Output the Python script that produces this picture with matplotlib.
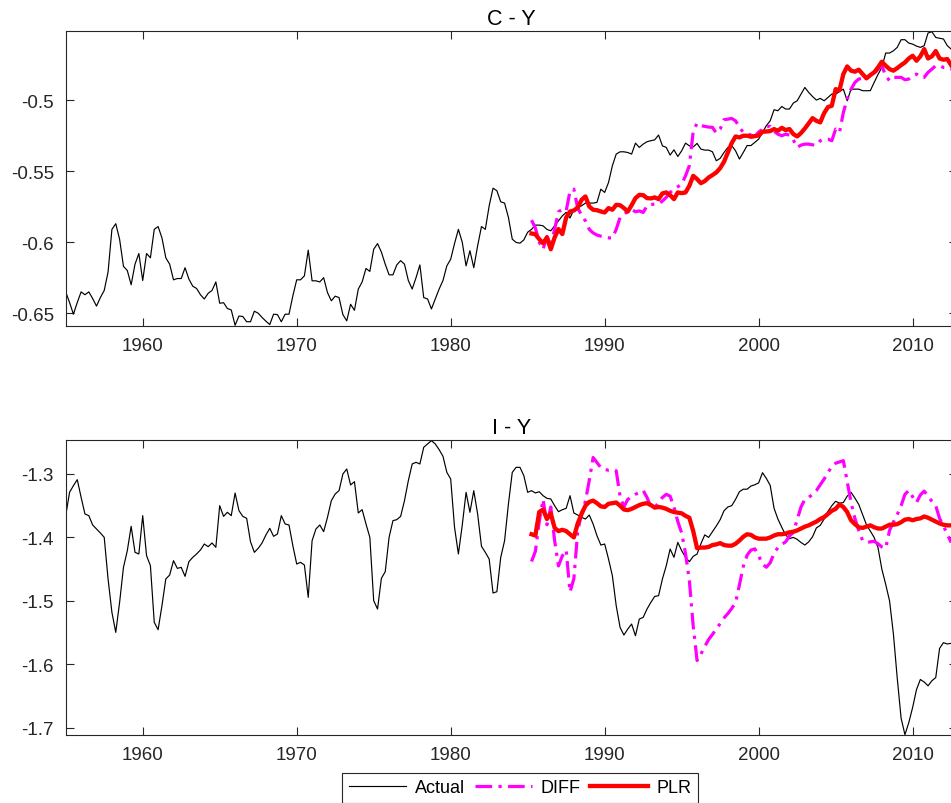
import numpy as np
import matplotlib
matplotlib.use('Agg')
import matplotlib.pyplot as plt

plt.rcParams['font.family'] = ['Liberation Sans', 'DejaVu Sans']

# quarterly dates, 1955Q1 .. 2012Q3
dates = np.arange(1955.0, 2012.51, 0.25)
# the two forecasts start in 1985Q2
fc_dates = np.arange(1985.25, 2012.51, 0.25)

# consumption / output ratio (log)
cy_actual = [
    -0.635, -0.6425, -0.6507, -0.6425,
    -0.635, -0.637, -0.635, -0.6397,
    -0.645, -0.639, -0.634, -0.621,
    -0.591, -0.587, -0.598, -0.617,
    -0.620, -0.630, -0.6155, -0.608,
    -0.627, -0.608, -0.611, -0.591,
    -0.589, -0.597, -0.611, -0.6155,
    -0.6265, -0.6256, -0.6256, -0.618,
    -0.626, -0.631, -0.6326, -0.637,
    -0.640, -0.636, -0.634, -0.628,
    -0.643, -0.6426, -0.6467, -0.6477,
    -0.6585, -0.652, -0.6523, -0.656,
    -0.656, -0.6486, -0.650, -0.653,
    -0.6556, -0.658, -0.6507, -0.651,
    -0.656, -0.6507, -0.6507, -0.6378,
    -0.6265, -0.6265, -0.6237, -0.6056,
    -0.6272, -0.6272, -0.628, -0.625,
    -0.6355, -0.6413, -0.638, -0.639,
    -0.651, -0.6554, -0.6437, -0.648,
    -0.633, -0.628, -0.6185, -0.6206,
    -0.605, -0.601, -0.607, -0.6155,
    -0.623, -0.623, -0.616, -0.613,
    -0.6155, -0.627, -0.633, -0.625,
    -0.616, -0.639, -0.640, -0.647,
    -0.640, -0.633, -0.627, -0.6167,
    -0.612, -0.601, -0.591, -0.600,
    -0.6167, -0.606, -0.618, -0.6026,
    -0.589, -0.591, -0.5744, -0.562,
    -0.5638, -0.5716, -0.5725, -0.5826,
    -0.5979, -0.6002, -0.6007, -0.5984,
    -0.593, -0.591, -0.588, -0.588,
    -0.5885, -0.591, -0.592, -0.5885,
    -0.585, -0.5815, -0.579, -0.583,
    -0.577, -0.5756, -0.5744, -0.5725,
    -0.5725, -0.5725, -0.572, -0.5627,
    -0.565, -0.558, -0.5462, -0.538,
    -0.5364, -0.5364, -0.5369, -0.538,
    -0.5303, -0.5333, -0.531, -0.5293,
    -0.5286, -0.528, -0.5246, -0.5322,
    -0.5333, -0.5387, -0.535, -0.5397,
    -0.5357, -0.5303, -0.5322, -0.533,
    -0.5305, -0.5345, -0.5352, -0.5352,
    -0.5364, -0.5427, -0.541, -0.5369,
    -0.5333, -0.532, -0.5357, -0.5415,
    -0.5369, -0.532, -0.532, -0.5298,
    -0.5275, -0.5228, -0.518, -0.5146,
    -0.5068, -0.5075, -0.5045, -0.5063,
    -0.5063, -0.5021, -0.5005, -0.4958,
    -0.4911, -0.4946, -0.4975, -0.5,
    -0.4988, -0.5005, -0.4981, -0.4958,
    -0.4958, -0.494, -0.4923, -0.5005,
    -0.4923, -0.4923, -0.4923, -0.4934,
    -0.4934, -0.4934, -0.4876, -0.482,
    -0.477, -0.4669, -0.4669, -0.4653,
    -0.4629, -0.4575, -0.4575, -0.4599,
    -0.4606, -0.462, -0.4629, -0.4617,
    -0.4528, -0.4519, -0.4559, -0.4565,
    -0.457, -0.4617, -0.4641,
]

cy_diff = [
    -0.5845, -0.590, -0.600,
    -0.605, -0.596, -0.602, -0.591,
    -0.5786, -0.577, -0.578, -0.564,
    -0.5627, -0.576, -0.581, -0.585,
    -0.591, -0.5935, -0.595, -0.5958,
    -0.5967, -0.597, -0.597, -0.591,
    -0.5826, -0.5803, -0.5785, -0.577,
    -0.5786, -0.578, -0.5791, -0.5744,
    -0.5735, -0.5732, -0.5732, -0.571,
    -0.5685, -0.565, -0.5627, -0.561,
    -0.5592, -0.5533, -0.5462, -0.522,
    -0.5162, -0.518, -0.5185, -0.519,
    -0.5192, -0.5232, -0.5204, -0.5138,
    -0.5134, -0.5129, -0.5146, -0.519,
    -0.5228, -0.5238, -0.5246, -0.5256,
    -0.5225, -0.5205, -0.5185, -0.5185,
    -0.522, -0.524, -0.5251, -0.524,
    -0.5246, -0.528, -0.5333, -0.5317,
    -0.531, -0.531, -0.5315, -0.5317,
    -0.5286, -0.5275, -0.5275, -0.5286,
    -0.5204, -0.5228, -0.5087, -0.4993,
    -0.4923, -0.4876, -0.4852, -0.4846,
    -0.484, -0.483, -0.4817, -0.4782,
    -0.4758, -0.4829, -0.4864, -0.484,
    -0.484, -0.484, -0.4857, -0.4852,
    -0.4829, -0.4817, -0.484, -0.484,
    -0.4805, -0.4782, -0.4758, -0.4758,
    -0.477, -0.477, -0.4782,
]

cy_plr = [
    -0.5939, -0.5944, -0.5979,
    -0.6007, -0.5967, -0.605, -0.5967,
    -0.5908, -0.5943, -0.5826, -0.5784,
    -0.5777, -0.5756, -0.5702, -0.5678,
    -0.5749, -0.5772, -0.5775, -0.5784,
    -0.5791, -0.576, -0.5772, -0.5737,
    -0.574, -0.576, -0.5784, -0.574,
    -0.569, -0.5667, -0.5669, -0.569,
    -0.5692, -0.5685, -0.5697, -0.5657,
    -0.565, -0.5669, -0.5697, -0.565,
    -0.5655, -0.565, -0.5603, -0.5533,
    -0.5556, -0.5585, -0.557, -0.5545,
    -0.5528, -0.5509, -0.5479, -0.5434,
    -0.5369, -0.5303, -0.5256, -0.5263,
    -0.5251, -0.5251, -0.5258, -0.5254,
    -0.5249, -0.5223, -0.5221, -0.5218,
    -0.5204, -0.5216, -0.5195, -0.5211,
    -0.5204, -0.5239, -0.5256, -0.5232,
    -0.52, -0.5164, -0.5127, -0.5146,
    -0.5157, -0.5092, -0.5049, -0.504,
    -0.4923, -0.493, -0.4817, -0.4763,
    -0.4793, -0.48, -0.4786, -0.4817,
    -0.4847, -0.4824, -0.4805, -0.477,
    -0.473, -0.4758, -0.4782, -0.4793,
    -0.4775, -0.4754, -0.4735, -0.4707,
    -0.4688, -0.4723, -0.4692, -0.4641,
    -0.4707, -0.4692, -0.4655, -0.4707,
    -0.4716, -0.4711, -0.4754,
]

# investment / output ratio (log)
iy_actual = [
    -1.3657, -1.3289, -1.3184, -1.3089,
    -1.3368, -1.3631, -1.3657, -1.3804,
    -1.3867, -1.393, -1.3998, -1.4655,
    -1.5181, -1.5497, -1.5024, -1.4472,
    -1.4209, -1.3825, -1.4235, -1.4261,
    -1.3657, -1.4288, -1.4445, -1.5339,
    -1.5455, -1.5076, -1.4655, -1.4593,
    -1.4367, -1.4488, -1.4472, -1.4614,
    -1.4382, -1.4314, -1.4261, -1.4198,
    -1.4104, -1.4146, -1.4088, -1.4156,
    -1.3499, -1.3668, -1.3604, -1.3657,
    -1.33, -1.3578, -1.3668, -1.3699,
    -1.4067, -1.4235, -1.4172, -1.4088,
    -1.3962, -1.3857, -1.3983, -1.3946,
    -1.3657, -1.3788, -1.3804, -1.413,
    -1.4419, -1.4393, -1.4435, -1.4945,
    -1.4051, -1.3867, -1.3804, -1.3909,
    -1.3683, -1.342, -1.3315, -1.3263,
    -1.3, -1.2921, -1.3173, -1.3121,
    -1.3615, -1.3562, -1.3788, -1.3999,
    -1.4997, -1.5129, -1.4645, -1.454,
    -1.3999, -1.3736, -1.372, -1.3668,
    -1.342, -1.3105, -1.2842, -1.2816,
    -1.2842, -1.2579, -1.2527, -1.2474,
    -1.2527, -1.2616, -1.2721, -1.2974,
    -1.3079, -1.384, -1.4261, -1.381,
    -1.3289, -1.3604, -1.3263, -1.3631,
    -1.414, -1.4236, -1.4341, -1.4877,
    -1.4856, -1.4315, -1.4052, -1.3473,
    -1.2974, -1.2895, -1.2895, -1.3026,
    -1.3289, -1.3263, -1.33, -1.3279,
    -1.3342, -1.3384, -1.3394, -1.35,
    -1.3594, -1.3563, -1.3542, -1.3342,
    -1.3615, -1.3647, -1.3684, -1.371,
    -1.3647, -1.3789, -1.3973, -1.412,
    -1.4104, -1.4341, -1.4604, -1.5077,
    -1.5419, -1.5539, -1.5445, -1.5366,
    -1.555, -1.5287, -1.5261, -1.5129,
    -1.5024, -1.493, -1.4919, -1.4656,
    -1.4446, -1.4183, -1.4314, -1.4078,
    -1.4209, -1.4314, -1.4383, -1.4299,
    -1.4262, -1.41, -1.396, -1.40,
    -1.391, -1.382, -1.372, -1.358,
    -1.352, -1.350, -1.340, -1.328,
    -1.324, -1.324, -1.319, -1.317,
    -1.314, -1.298, -1.307, -1.318,
    -1.354, -1.371, -1.384, -1.396,
    -1.402, -1.400, -1.403, -1.408,
    -1.412, -1.407, -1.399, -1.385,
    -1.381, -1.371, -1.359, -1.350,
    -1.343, -1.346, -1.345, -1.335,
    -1.329, -1.338, -1.348, -1.364,
    -1.380, -1.390, -1.400, -1.416,
    -1.450, -1.474, -1.500, -1.552,
    -1.622, -1.685, -1.711, -1.692,
    -1.668, -1.640, -1.624, -1.628,
    -1.634, -1.626, -1.621, -1.575,
    -1.566, -1.568, -1.567,
]

iy_diff = [
    -1.438, -1.422, -1.375,
    -1.34, -1.38, -1.352, -1.405,
    -1.445, -1.429, -1.42, -1.486,
    -1.465, -1.39, -1.362, -1.343,
    -1.31, -1.274, -1.282, -1.29,
    -1.293, -1.294, -1.293, -1.295,
    -1.335, -1.352, -1.34, -1.336,
    -1.332, -1.329, -1.326, -1.337,
    -1.352, -1.353, -1.345, -1.337,
    -1.332, -1.335, -1.352, -1.375,
    -1.393, -1.425, -1.468, -1.54,
    -1.594, -1.584, -1.572, -1.561,
    -1.553, -1.544, -1.536, -1.527,
    -1.52, -1.512, -1.503, -1.475,
    -1.446, -1.428, -1.42, -1.418,
    -1.429, -1.442, -1.447, -1.44,
    -1.425, -1.416, -1.411, -1.407,
    -1.398, -1.392, -1.372, -1.352,
    -1.34, -1.337, -1.332, -1.326,
    -1.317, -1.308, -1.298, -1.288,
    -1.283, -1.281, -1.279, -1.312,
    -1.345, -1.37, -1.389, -1.405,
    -1.408, -1.407, -1.406, -1.41,
    -1.415, -1.417, -1.389, -1.376,
    -1.364, -1.35, -1.332, -1.326,
    -1.336, -1.345, -1.333, -1.327,
    -1.335, -1.343, -1.35, -1.37,
    -1.382, -1.395, -1.408,
]

iy_plr = [
    -1.395, -1.397, -1.36,
    -1.356, -1.371, -1.362, -1.385,
    -1.39, -1.388, -1.39, -1.395,
    -1.40, -1.378, -1.363, -1.35,
    -1.344, -1.342, -1.346, -1.351,
    -1.352, -1.347, -1.346, -1.345,
    -1.35, -1.356, -1.357, -1.355,
    -1.352, -1.349, -1.347, -1.346,
    -1.349, -1.353, -1.352, -1.353,
    -1.355, -1.358, -1.36, -1.361,
    -1.362, -1.366, -1.369, -1.39,
    -1.417, -1.416, -1.416, -1.415,
    -1.412, -1.411, -1.409, -1.412,
    -1.413, -1.413, -1.41, -1.405,
    -1.399, -1.395, -1.396, -1.40,
    -1.402, -1.402, -1.402, -1.4,
    -1.397, -1.395, -1.395, -1.394,
    -1.392, -1.391, -1.389, -1.386,
    -1.383, -1.381, -1.378, -1.375,
    -1.371, -1.368, -1.363, -1.358,
    -1.355, -1.348, -1.352, -1.36,
    -1.373, -1.379, -1.384, -1.385,
    -1.383, -1.381, -1.384, -1.386,
    -1.386, -1.383, -1.380, -1.380,
    -1.379, -1.376, -1.372, -1.371,
    -1.373, -1.371, -1.37, -1.367,
    -1.369, -1.372, -1.375, -1.378,
    -1.38, -1.381, -1.381,
]

xticks = [1960, 1970, 1980, 1990, 2000, 2010]
cy_ticks = [-0.65, -0.6, -0.55, -0.5]
cy_ticklabels = ['-0.65', '-0.6', '-0.55', '-0.5']
iy_ticks = [-1.7, -1.6, -1.5, -1.4, -1.3]
iy_ticklabels = ['-1.7', '-1.6', '-1.5', '-1.4', '-1.3']

ink = '#262626'
diff_dash = (0, (5.2, 2.0, 1.0, 2.0))

fig = plt.figure(figsize=(9.51, 8.04), dpi=100)
# axes run slightly past the right edge of the figure
ax1 = fig.add_axes([0.0691, 0.5933, 0.9372, 0.3665])
ax2 = fig.add_axes([0.0691, 0.0846, 0.9372, 0.3669])

panels = [
    (ax1, 'C - Y', cy_actual, cy_diff, cy_plr, cy_ticks, cy_ticklabels, (-0.659, -0.4516)),
    (ax2, 'I - Y', iy_actual, iy_diff, iy_plr, iy_ticks, iy_ticklabels, (-1.7115, -1.2464)),
]

for ax, title, actual, diff, plr, yt, ytl, ylim in panels:
    ax.plot(dates, actual, color='black', lw=0.85, label='Actual')
    ax.plot(fc_dates, diff, color='#ff00ff', lw=2.3, linestyle=diff_dash, label='DIFF')
    ax.plot(fc_dates, plr, color='#ff0000', lw=3.1, label='PLR')
    ax.set_xlim(1955, 2012.88)
    ax.set_ylim(*ylim)
    ax.set_xticks(xticks)
    ax.set_xticklabels([str(t) for t in xticks])
    ax.set_yticks(yt)
    ax.set_yticklabels(ytl)
    ax.tick_params(direction='in', length=5.8, width=0.8, color=ink, labelcolor=ink,
                   labelsize=13.5, top=True, right=True)
    ax.tick_params(axis='x', pad=8)
    ax.tick_params(axis='y', pad=8.5)
    for sp in ax.spines.values():
        sp.set_color(ink)
        sp.set_linewidth(0.8)
    ax.set_title(title, fontsize=15.5, color='black', pad=5)

handles, labels = ax2.get_legend_handles_labels()
leg = fig.legend(handles, labels, loc='upper center', ncol=3,
                 bbox_to_anchor=(520 / 951, 1 - 774 / 804), borderaxespad=0,
                 fontsize=13, handlelength=3.2, handletextpad=0.45,
                 columnspacing=0.55, borderpad=0.35, fancybox=False,
                 framealpha=1, edgecolor=ink)
leg.get_frame().set_linewidth(0.8)

fig.savefig('out.png', dpi=100)
